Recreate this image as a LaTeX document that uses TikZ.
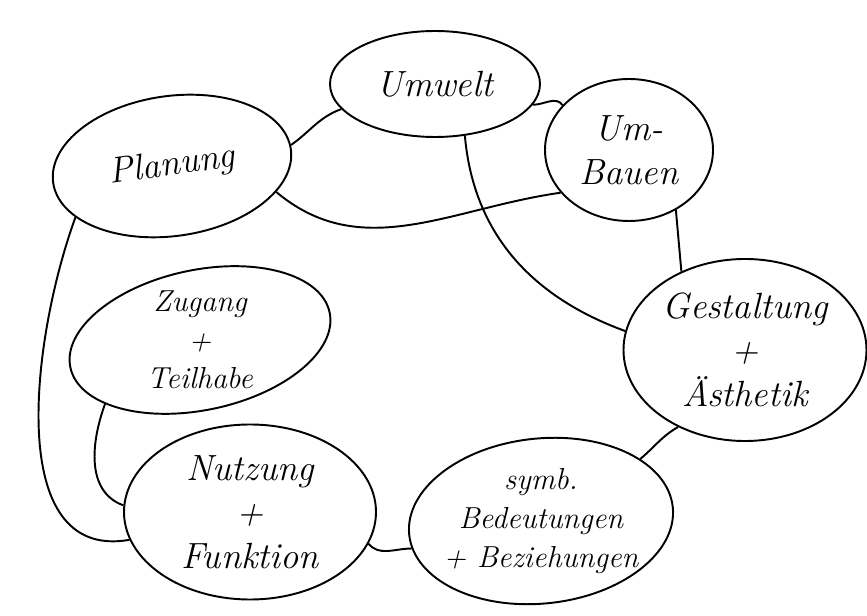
\documentclass[tikz,border=0pt]{standalone}
\usetikzlibrary{shapes.geometric, positioning}
\begin{document}
\begin{tikzpicture}[
    bubble/.style={draw, ellipse, line width=1.1pt, inner sep=0pt, align=center, font=\huge\itshape},
    words/.style={align=center, font=\LARGE\itshape},
    link/.style={line width=1.1pt}
  ]
  \useasboundingbox (0,0) rectangle (17.34,12.32);
  % the seven fields
  \node[bubble, minimum width=4.2cm, minimum height=2.12cm] (umwelt) at (8.70,10.64) {Umwelt};
  \node[bubble, minimum width=3.36cm, minimum height=2.84cm] (umbauen) at (12.58,9.32) {Um-\\Bauen};
  \node[bubble, minimum width=4.8cm, minimum height=2.8cm, rotate=8] (planung) at (3.44,9.0) {Planung};
  \node[bubble, minimum width=4.86cm, minimum height=3.64cm] (gestaltung) at (14.9,5.32) {Gestaltung\\+\\Ästhetik};
  \node[bubble, minimum width=5.3cm, minimum height=3.3cm, rotate=6] (symb) at (10.82,1.9) {};
  \node[words] (symbtext) at (symb.center) {symb.\\Bedeutungen\\+ Beziehungen};
  \node[bubble, minimum width=5.04cm, minimum height=3.5cm] (nutzung) at (5.0,2.08) {Nutzung\\+\\Funktion};
  \node[bubble, minimum width=5.3cm, minimum height=2.8cm, rotate=12] (zugang) at (4.0,5.52) {};
  \node[words] (zugangtext) at (zugang.center) {Zugang\\+\\Teilhabe};
  % connections
  \draw[link] (planung.2) to[out=35, in=200] (umwelt.195);
  \draw[link] (umwelt.348) to[out=0, in=125] (umbauen.146);
  \draw[link] (planung.338) to[out=-40, in=188] (umbauen.212);
  \draw[link] (umwelt.300) to[out=-85, in=160] (gestaltung.171);
  \draw[link] (umbauen.308) -- (gestaltung.129);
  \draw[link] (gestaltung.229) to[out=210, in=40] (symb.26);
  \draw[link] (symb.186) to[out=180, in=-50] (nutzung.345);
  \draw[link] (nutzung.193) to[out=190, in=250] (planung.200);
  \draw[link] (zugang.202) to[out=250, in=160] (nutzung.177);
\end{tikzpicture}
\end{document}
